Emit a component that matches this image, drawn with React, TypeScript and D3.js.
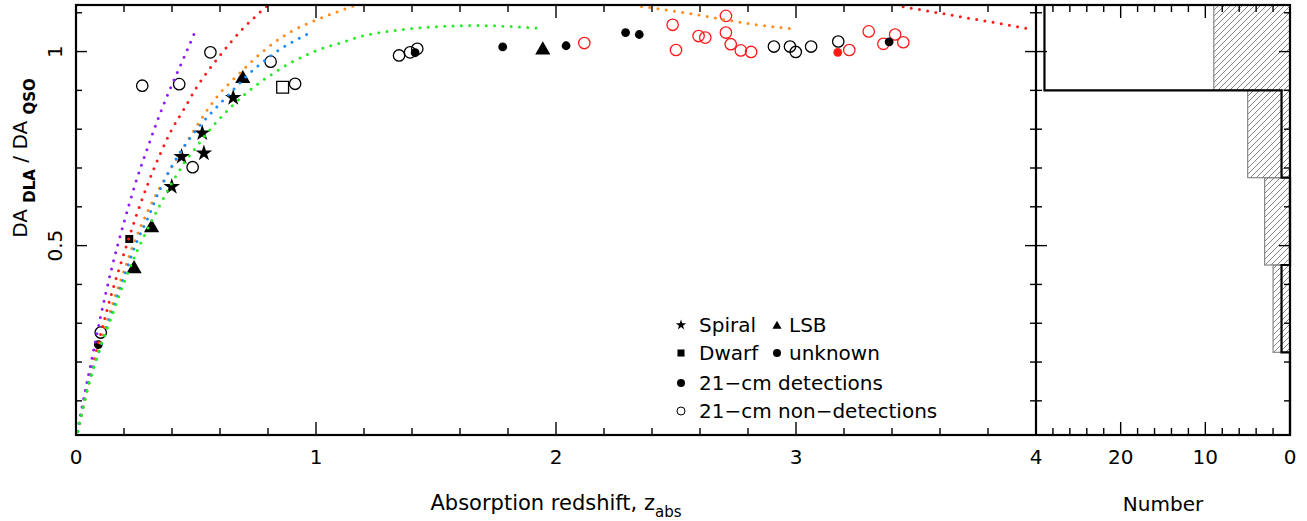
import * as d3 from "d3";

// theory curves: [z_abs, DA_DLA / DA_QSO]
const curvePurple = [[0, 0], [0.03, 0.1], [0.065, 0.205], [0.1, 0.31], [0.15, 0.445], [0.2, 0.56], [0.25, 0.665], [0.3, 0.755], [0.35, 0.84], [0.4, 0.915], [0.45, 0.985], [0.493, 1.047]];
const curveRedLow = [[0, 0], [0.05, 0.14], [0.1, 0.265], [0.15, 0.38], [0.2, 0.48], [0.25, 0.575], [0.3, 0.66], [0.35, 0.735], [0.4, 0.8], [0.45, 0.852], [0.5, 0.905], [0.55, 0.95], [0.6, 0.99], [0.65, 1.028], [0.7, 1.062], [0.75, 1.092], [0.8, 1.12], [0.85, 1.145]];
const curveRedHigh = [[3.38, 1.128], [3.419, 1.12], [3.524, 1.107], [3.628, 1.096], [3.739, 1.084], [3.843, 1.073], [3.967, 1.059]];
const curveOrangeLow = [[0, 0], [0.05, 0.135], [0.1, 0.245], [0.15, 0.345], [0.2, 0.435], [0.25, 0.52], [0.3, 0.59], [0.35, 0.65], [0.4, 0.703], [0.45, 0.755], [0.5, 0.805], [0.55, 0.852], [0.6, 0.893], [0.65, 0.925], [0.7, 0.955], [0.75, 0.985], [0.8, 1.011], [0.9, 1.053], [1.0, 1.081], [1.1, 1.105], [1.2, 1.127]];
const curveOrangeHigh = [[2.29, 1.128], [2.329, 1.12], [2.405, 1.112], [2.503, 1.103], [2.586, 1.095], [2.67, 1.086], [2.753, 1.077], [2.836, 1.069], [2.92, 1.063], [2.975, 1.059]];
const curveBlue = [[0, 0], [0.05, 0.14], [0.1, 0.235], [0.15, 0.33], [0.2, 0.42], [0.25, 0.505], [0.3, 0.572], [0.35, 0.645], [0.4, 0.705], [0.45, 0.755], [0.5, 0.797], [0.55, 0.833], [0.6, 0.866], [0.65, 0.898], [0.7, 0.93], [0.75, 0.959], [0.8, 0.983], [0.85, 1.006], [0.9, 1.024], [0.97, 1.047]];
const curveGreen = [[0, 0], [0.05, 0.135], [0.1, 0.235], [0.15, 0.32], [0.2, 0.405], [0.25, 0.48], [0.3, 0.545], [0.35, 0.605], [0.4, 0.662], [0.45, 0.712], [0.5, 0.753], [0.55, 0.793], [0.6, 0.828], [0.65, 0.86], [0.7, 0.888], [0.8, 0.935], [0.9, 0.973], [1.0, 1.002], [1.1, 1.022], [1.2, 1.041], [1.35, 1.056], [1.5, 1.064], [1.65, 1.067], [1.8, 1.065], [1.95, 1.059]];

const curves = [
  { pts: curvePurple, color: "#8f1cff" },
  { pts: curveRedLow, color: "#ff1a1a" },
  { pts: curveRedHigh, color: "#ff1a1a" },
  { pts: curveOrangeLow, color: "#ff8c1a" },
  { pts: curveOrangeHigh, color: "#ff8c1a" },
  { pts: curveBlue, color: "#1a8cff" },
  { pts: curveGreen, color: "#22ee22" },
];

// absorbers
const spiralDet = [[0.655, 0.881], [0.526, 0.79], [0.533, 0.738], [0.44, 0.729], [0.399, 0.652]];
const lsbDet = [[0.695, 0.93], [0.315, 0.546], [0.242, 0.44], [1.945, 1.004]];
const dwarfDet = [[0.222, 0.517]];
const dwarfNon = [[0.861, 0.908]];
const unknownDet = [[0.093, 0.245], [1.413, 0.997], [1.778, 1.012], [2.042, 1.015], [2.29, 1.049], [2.347, 1.044], [3.388, 1.025]];
const unknownNon = [[0.276, 0.912], [0.43, 0.916], [0.56, 0.998], [0.811, 0.974], [0.913, 0.917], [0.486, 0.702], [0.103, 0.276], [1.346, 0.99], [1.392, 0.998], [1.422, 1.007], [2.908, 1.013], [2.975, 1.013], [2.999, 0.999], [3.063, 1.013], [3.176, 1.026]];
const newDet = [[3.174, 0.998]];
const newNon = [[2.118, 1.022], [2.486, 1.069], [2.5, 1.004], [2.594, 1.04], [2.622, 1.036], [2.708, 1.092], [2.708, 1.049], [2.728, 1.019], [2.77, 1.003], [2.813, 0.999], [3.222, 1.004], [3.303, 1.052], [3.364, 1.02], [3.413, 1.044], [3.447, 1.024]];

// histogram of the ratio
const binEdges = [0, 0.225, 0.45, 0.675, 0.9, 1.125];
const countsOutline = [0, 1, 0, 1, 29];
const countsHatched = [0, 2, 3, 5, 9];

const zMajor = [0, 1, 2, 3, 4];
const yMajor = [0.5, 1];
const nMajor = [20, 10, 0];

const W = 1307;
const H = 521;
const L = 76, R = 1036, T = 5, B = 435, HR = 1290;
const FONT = "'DejaVu Sans', sans-serif";

export default function App() {
  const x = d3.scaleLinear().domain([0, 4]).range([L, R]);
  const y = d3.scaleLinear().domain([0.012, 1.12]).range([B, T]);
  const hx = d3.scaleLinear().domain([30, 0]).range([R, HR]);

  const line = d3.line<number[]>().x((d) => x(d[0])).y((d) => y(d[1])).curve(d3.curveMonotoneX);

  const zTicks = d3.range(0, 4.001, 0.2);
  const yTicks = d3.range(0.1, 1.101, 0.1);
  const nTicks = d3.range(0, 30.01, 2);
  const isInt = (v: number) => Math.abs(v - Math.round(v)) < 1e-6;
  const isYMajor = (v: number) => yMajor.some((m) => Math.abs(m - v) < 1e-6);

  const star = (s: number) => d3.symbol().type(d3.symbolStar).size(s)()!;
  const tri = (s: number) => d3.symbol().type(d3.symbolTriangle).size(s)()!;
  const sq = (s: number) => d3.symbol().type(d3.symbolSquare).size(s)()!;

  // outline histogram as a step path, bins from bottom to top
  let outline = "";
  binEdges.slice(0, -1).forEach((lo, i) => {
    const hi = Math.min(binEdges[i + 1], 1.12);
    const c = countsOutline[i];
    outline += `${i === 0 ? "M" : "L"}${hx(c)},${y(Math.max(lo, 0.012))}L${hx(c)},${y(hi)}`;
  });
  outline += `L${hx(0)},${y(1.12)}`;

  return (
    <svg width={W} height={H} style={{ position: "absolute", left: 0, top: 0, background: "#fff" }} fontFamily={FONT}>
      <defs>
        <clipPath id="plotclip">
          <rect x={L} y={T} width={R - L} height={B - T} />
        </clipPath>
        <pattern id="hatch" patternUnits="userSpaceOnUse" width={6} height={6}>
          <path d="M-1,1 l2,-2 M0,6 l6,-6 M5,7 l2,-2" stroke="#666" strokeWidth={0.8} />
        </pattern>
      </defs>

      {/* markers */}
      <g>
        {unknownNon.map((d, i) => (
          <circle key={`un${i}`} cx={x(d[0])} cy={y(d[1])} r={5.7} fill="none" stroke="#000" strokeWidth={1.3} />
        ))}
        {newNon.map((d, i) => (
          <circle key={`nn${i}`} cx={x(d[0])} cy={y(d[1])} r={5.7} fill="none" stroke="#ff1a1a" strokeWidth={1.3} />
        ))}
        {unknownDet.map((d, i) => (
          <circle key={`ud${i}`} cx={x(d[0])} cy={y(d[1])} r={4.4} fill="#000" />
        ))}
        {newDet.map((d, i) => (
          <circle key={`nd${i}`} cx={x(d[0])} cy={y(d[1])} r={4.4} fill="#ff1a1a" />
        ))}
        {dwarfNon.map((d, i) => (
          <path key={`dn${i}`} d={sq(140)} transform={`translate(${x(d[0])},${y(d[1])})`} fill="none" stroke="#000" strokeWidth={1.3} />
        ))}
        {dwarfDet.map((d, i) => (
          <path key={`dd${i}`} d={sq(64)} transform={`translate(${x(d[0])},${y(d[1])})`} fill="#000" />
        ))}
        {lsbDet.map((d, i) => (
          <path key={`l${i}`} d={tri(100)} transform={`translate(${x(d[0])},${y(d[1])})`} fill="#000" />
        ))}
        {spiralDet.map((d, i) => (
          <path key={`s${i}`} d={star(85)} transform={`translate(${x(d[0])},${y(d[1])})`} fill="#000" />
        ))}
      </g>

      {/* dotted curves */}
      <g clipPath="url(#plotclip)">
        {curves.map((c, i) => (
          <path key={i} d={line(c.pts)!} fill="none" stroke={c.color} strokeWidth={3} strokeDasharray="0 8.3" strokeLinecap="round" />
        ))}
      </g>

      {/* histogram */}
      <g>
        {binEdges.slice(0, -1).map((lo, i) =>
          countsHatched[i] > 0 ? (
            <rect
              key={i}
              x={hx(countsHatched[i])}
              y={y(Math.min(binEdges[i + 1], 1.12))}
              width={hx(0) - hx(countsHatched[i])}
              height={y(lo) - y(Math.min(binEdges[i + 1], 1.12))}
              fill="url(#hatch)"
              stroke="#888"
              strokeWidth={1.2}
            />
          ) : null
        )}
        <path d={outline} fill="none" stroke="#000" strokeWidth={2.2} />
      </g>

      {/* frame ticks */}
      <g stroke="#000" strokeWidth={1.4}>
        {zTicks.map((v) => {
          const len = isInt(v) ? 13 : 7;
          return (
            <g key={`z${v}`}>
              <line x1={x(v)} x2={x(v)} y1={B} y2={B - len} />
              <line x1={x(v)} x2={x(v)} y1={T} y2={T + len} />
            </g>
          );
        })}
        {yTicks.map((v) => {
          const len = isYMajor(v) ? 11 : 6;
          return (
            <g key={`y${v}`}>
              <line x1={L} x2={L + len} y1={y(v)} y2={y(v)} />
              <line x1={R} x2={R - len} y1={y(v)} y2={y(v)} />
              <line x1={R} x2={R + len} y1={y(v)} y2={y(v)} />
              <line x1={HR} x2={HR - len} y1={y(v)} y2={y(v)} />
            </g>
          );
        })}
        {nTicks.map((v) => {
          const len = v % 10 === 0 ? 13 : 7;
          return (
            <g key={`n${v}`}>
              <line x1={hx(v)} x2={hx(v)} y1={B} y2={B - len} />
              <line x1={hx(v)} x2={hx(v)} y1={T} y2={T + len} />
            </g>
          );
        })}
      </g>
      <rect x={L} y={T} width={HR - L} height={B - T} fill="none" stroke="#000" strokeWidth={2.2} />
      <line x1={R} x2={R} y1={T} y2={B} stroke="#000" strokeWidth={2.2} />

      {/* tick labels */}
      <g fontSize={20} fill="#000" textAnchor="middle">
        {zMajor.map((v) => (
          <text key={`zl${v}`} x={x(v)} y={464}>{v}</text>
        ))}
        {nMajor.map((v) => (
          <text key={`nl${v}`} x={hx(v)} y={464}>{v}</text>
        ))}
        {yMajor.map((v) => (
          <text key={`yl${v}`} transform={`translate(62,${y(v)}) rotate(-90)`}>{v === 1 ? "1" : "0.5"}</text>
        ))}
      </g>

      {/* axis titles */}
      <text x={(L + R) / 2} y={510} fontSize={21} textAnchor="middle">
        Absorption redshift, z<tspan fontSize={15} dy={7}>abs</tspan>
      </text>
      <text x={(R + HR) / 2} y={511} fontSize={20} textAnchor="middle">Number</text>
      <text transform="translate(27,158) rotate(-90)" fontSize={20} textAnchor="middle">
        DA <tspan fontSize={15} fontWeight="bold" dy={8}>DLA</tspan>
        <tspan dy={-8}> / DA </tspan>
        <tspan fontSize={15} fontWeight="bold" dy={8}>QSO</tspan>
      </text>

      {/* legend */}
      <g fontSize={20}>
        <path d={star(34)} transform="translate(681,325)" fill="#000" />
        <text x={699} y={332}>Spiral</text>
        <path d={tri(36)} transform="translate(777,326)" fill="#000" />
        <text x={789} y={332}>LSB</text>
        <path d={sq(50)} transform="translate(681,353)" fill="#000" />
        <text x={699} y={360}>Dwarf</text>
        <circle cx={777} cy={353} r={4} fill="#000" />
        <text x={789} y={360}>unknown</text>
        <circle cx={681} cy={383} r={4} fill="#000" />
        <text x={699} y={390}>21−cm detections</text>
        <circle cx={681} cy={411} r={4} fill="none" stroke="#000" strokeWidth={1} />
        <text x={699} y={418}>21−cm non−detections</text>
      </g>
    </svg>
  );
}
